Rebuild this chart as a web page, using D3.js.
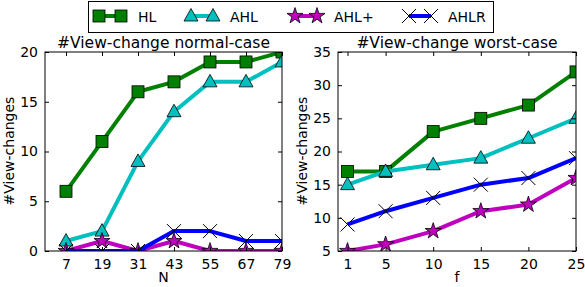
<!DOCTYPE html>
<meta charset="utf-8">
<style>
body { margin: 0; background: #fff; }
text { font-family: "DejaVu Sans", sans-serif; fill: #000; }
.tick text { font-size: 14px; }
.title { font-size: 15.5px; }
.lbl { font-size: 14px; }
.frame { fill: none; stroke: #000; stroke-width: 1; }
.line { fill: none; stroke-width: 4px; stroke-linejoin: round; }
</style>
<svg width="585" height="287"></svg>
<script src="https://cdn.jsdelivr.net/npm/d3@7"></script>
<script>
// data
var seriesNames = ["HL", "AHL", "AHL+", "AHLR"];
var seriesColors = ["#008000", "#00bfbf", "#bf00bf", "#0000ff"];

var nValues = [7, 19, 31, 43, 55, 67, 79];
var normalHL   = [6, 11, 16, 17, 19, 19, 20];
var normalAHL  = [1, 2, 9, 14, 17, 17, 19];
var normalAHLp = [0, 1, 0, 1, 0, 0, 0];
var normalAHLR = [0, 0, 0, 2, 2, 1, 1];

var fValues = [1, 5, 10, 15, 20, 25];
var worstHL   = [17, 17, 23, 25, 27, 32];
var worstAHL  = [15, 17, 18, 19, 22, 25];
var worstAHLp = [5, 6, 8, 11, 12, 16];
var worstAHLR = [9, 11, 13, 15, 16, 19];

var svg = d3.select("svg");

function marker(sel, i) {
  sel.attr("stroke", "#000").attr("stroke-width", 0.8).attr("fill", seriesColors[i]);
  if (i == 0) {
    sel.append("rect").attr("x", -6).attr("y", -6).attr("width", 12).attr("height", 12);
  } else if (i == 1) {
    sel.append("path").attr("d", "M0,-7.5L7,5L-7,5Z");
  } else if (i == 2) {
    sel.append("path").attr("d", d3.symbol().type(d3.symbolStar).size(80)());
  } else {
    sel.append("path").attr("d", "M-7,-7L7,7M-7,7L7,-7").attr("fill", "none").attr("stroke-width", 1);
  }
}

function panel(opt) {
  var x = d3.scaleLinear().domain(opt.xdom).range([opt.left, opt.right]);
  var y = d3.scaleLinear().domain(opt.ydom).range([251, 52]);
  var g = svg.append("g");
  var clipId = "clip" + opt.id;
  svg.append("clipPath").attr("id", clipId)
    .append("rect").attr("x", opt.left).attr("y", 52)
    .attr("width", opt.right - opt.left).attr("height", 199);

  var plot = g.append("g").attr("clip-path", "url(#" + clipId + ")");
  var line = d3.line().x(function(d) { return x(d[0]); }).y(function(d) { return y(d[1]); });
  opt.series.forEach(function(vals, i) {
    var pts = opt.xs.map(function(v, k) { return [v, vals[k]]; });
    plot.append("path").attr("class", "line")
      .attr("stroke", seriesColors[i]).attr("d", line(pts));
    pts.forEach(function(p) {
      plot.append("g").attr("transform", "translate(" + x(p[0]) + "," + y(p[1]) + ")").call(marker, i);
    });
  });

  // axes with inward ticks on all sides
  g.append("g").attr("transform", "translate(0,251)")
    .call(d3.axisBottom(x).tickValues(opt.xs).tickSizeInner(-4).tickSizeOuter(0).tickPadding(8))
    .call(function(a) { a.select(".domain").remove(); a.selectAll("text").attr("dy", "0.71em"); });
  g.append("g").attr("transform", "translate(0,52)")
    .call(d3.axisTop(x).tickValues(opt.xs).tickSizeInner(-4).tickSizeOuter(0).tickFormat(""))
    .call(function(a) { a.select(".domain").remove(); });
  g.append("g").attr("transform", "translate(" + opt.left + ",0)")
    .call(d3.axisLeft(y).tickValues(opt.yticks).tickSizeInner(-4).tickSizeOuter(0).tickPadding(7))
    .call(function(a) { a.select(".domain").remove(); });
  g.append("g").attr("transform", "translate(" + opt.right + ",0)")
    .call(d3.axisRight(y).tickValues(opt.yticks).tickSizeInner(-4).tickSizeOuter(0).tickFormat(""))
    .call(function(a) { a.select(".domain").remove(); });
  g.selectAll(".tick line").attr("stroke", "#000");
  g.selectAll(".tick text").attr("font-family", null).attr("font-size", null);

  g.append("rect").attr("class", "frame")
    .attr("x", opt.left).attr("y", 52).attr("width", opt.right - opt.left).attr("height", 199);

  g.append("text").attr("class", "title").attr("text-anchor", "middle")
    .attr("x", (opt.left + opt.right) / 2).attr("y", 48).text(opt.title);
  g.append("text").attr("class", "lbl").attr("text-anchor", "middle")
    .attr("x", (opt.left + opt.right) / 2).attr("y", 282).text(opt.xlabel);
  g.append("text").attr("class", "lbl").attr("text-anchor", "middle")
    .attr("transform", "translate(" + (opt.left - 31) + ",151) rotate(-90)").text("#View-changes");
}

panel({id: 1, left: 45, right: 282, xdom: [0, 79], ydom: [0, 20], xs: nValues,
  yticks: [0, 5, 10, 15, 20], title: "#View-change normal-case", xlabel: "N",
  series: [normalHL, normalAHL, normalAHLp, normalAHLR]});
panel({id: 2, left: 338, right: 576, xdom: [0, 25], ydom: [5, 35], xs: fValues,
  yticks: [5, 10, 15, 20, 25, 30, 35], title: "#View-change worst-case", xlabel: "f",
  series: [worstHL, worstAHL, worstAHLp, worstAHLR]});

// legend
var leg = svg.append("g");
leg.append("rect").attr("x", 88.5).attr("y", 1.5).attr("width", 405).attr("height", 31)
  .attr("fill", "#fff").attr("stroke", "#000");
var legX = [93, 185, 289, 403];
seriesNames.forEach(function(name, i) {
  var x0 = legX[i] + 6, x1 = legX[i] + 28;
  leg.append("line").attr("x1", x0).attr("x2", x1).attr("y1", 16).attr("y2", 16)
    .attr("stroke", seriesColors[i]).attr("stroke-width", 4);
  leg.append("g").attr("transform", "translate(" + x0 + ",16)").call(marker, i);
  leg.append("g").attr("transform", "translate(" + x1 + ",16)").call(marker, i);
  leg.append("text").attr("class", "lbl").attr("x", legX[i] + 45).attr("y", 21.5).text(name);
});
</script>
